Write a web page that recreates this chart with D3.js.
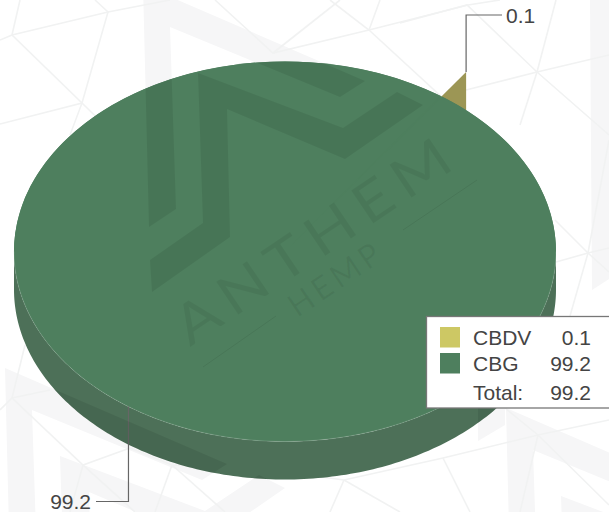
<!DOCTYPE html>
<meta charset="utf-8">
<style>
  html, body { margin: 0; padding: 0; background: #fff; overflow: hidden; }
  text { font-family: "Liberation Sans", Arial, sans-serif; font-size: 21px; fill: #444; }
</style>
<svg width="609" height="512"></svg>
<script src="https://d3js.org/d3.v7.min.js"></script>
<script>
const categories = ["CBDV", "CBG"]
const values = [0.1, 99.2]
const totalLabel = "Total:"
const totalValue = 99.2
const colors = ["#cdc864", "#4e7f5e"]
const sideColors = ["#9c9655", "#4d7058"]

// watermark artwork, sits behind/over the chart, not data
const logoOuter = [[143,-15],[365,81],[340,97],[170,27],[176,209],[149,227]]
const logoInner = [[198,73],[343,128],[397,92],[423,105],[345,159],[227,109],[230,237],[152,292],[150,260],[203,223]]
const logoTiles = [[0,0],[-138,383],[363,423]]
const extraShapes = [
  [[590,0],[609,0],[609,279],[592,290]],
  [[478,360],[505,360],[505,425],[478,441]]
]
const meshLines = [
  [[0,40],[12,35],[108,12],[170,0]], [[12,35],[20,0]], [[12,35],[82,103],[150,170]], [[0,124],[82,103],[108,12],[95,0]],
  [[82,103],[70,135]], [[215,0],[273,53],[369,30],[468,5],[500,0]], [[273,53],[340,0]],
  [[330,0],[369,30],[445,100]], [[369,30],[380,0]], [[400,23],[467,5],[537,72],[609,135]],
  [[466,90],[537,72],[609,55]], [[537,72],[556,0]], [[537,72],[520,125]],
  [[556,262],[588,253],[609,248]], [[555,220],[588,253],[609,272]], [[588,253],[609,140]], [[588,253],[570,316]],
  [[0,410],[12,398],[50,390]], [[12,398],[25,345]], [[12,398],[83,465],[130,448]], [[83,465],[70,512]], [[83,465],[135,512]],
  [[130,448],[172,465],[155,512]], [[172,465],[225,512]], [[172,465],[270,470]],
  [[270,470],[344,480],[443,458],[538,435],[609,420]], [[344,480],[330,512]], [[344,480],[400,512]],
  [[443,458],[470,512]], [[538,435],[505,408]], [[538,435],[520,512]], [[538,435],[609,505]]
]

const cx = 285, cy = 251.5, rx = 271, ry = 190
const depth = 38
const explode = 0.157
const firstAngle = 35.1 * Math.PI / 180

const svg = d3.select("svg")
const line = d3.line()
const shapePath = p => line(p) + "Z"

// screen position of a pie angle at radius factor k
const onRim = (a, k = 1) => [cx + rx * k * Math.sin(a), cy - ry * k * Math.cos(a)]

const pie = d3.pie().sort(null).startAngle(firstAngle).endAngle(firstAngle + 2 * Math.PI)
const slices = pie(values)
const midAngle = d => (d.startAngle + d.endAngle) / 2
const arc = d3.arc().innerRadius(0).outerRadius(rx)

function drawLogo(g, fill, opacity) {
  logoTiles.forEach(t => {
    [logoOuter, logoInner].forEach(shape => {
      g.append("path")
        .attr("d", shapePath(shape.map(p => [p[0] + t[0], p[1] + t[1]])))
        .attr("fill", fill).attr("fill-opacity", opacity)
    })
  })
  extraShapes.forEach(shape => {
    g.append("path").attr("d", shapePath(shape)).attr("fill", fill).attr("fill-opacity", opacity)
  })
}

// background
const back = svg.append("g")
drawLogo(back, "#f6f6f7", 1)
back.selectAll("path.mesh").data(meshLines).join("path")
  .attr("class", "mesh")
  .attr("d", line)
  .attr("fill", "none")
  .attr("stroke", "#f1f2f2")
  .attr("stroke-width", 1.6)

// exploded small slice: the radial wall and its thin top
const small = slices[0]
const a0 = midAngle(small)
const apex = onRim(a0, explode), tip = onRim(a0, 1 + explode)
const gSmall = svg.append("g")
gSmall.append("path")
  .attr("d", shapePath([apex, tip, [tip[0], tip[1] + depth], [apex[0], apex[1] + depth]]))
  .attr("fill", sideColors[0])

// big slice: side wall then top
const lowerHalf = d3.range(90, 270.5, 1).map(d => d * Math.PI / 180)
const sideOutline = lowerHalf.map(a => { const p = onRim(a); return [p[0], p[1] + depth] })
  .concat(lowerHalf.slice().reverse().map(a => onRim(a)))

svg.append("path").attr("d", shapePath(sideOutline)).attr("fill", sideColors[1])

// backing disc closes the hairline gap the small slice leaves in the top
svg.append("ellipse")
  .attr("cx", cx).attr("cy", cy).attr("rx", rx).attr("ry", ry)
  .attr("fill", colors[1])

const big = slices[1]
svg.append("path")
  .attr("transform", `translate(${cx},${cy}) scale(1,${ry / rx})`)
  .attr("d", arc(big))
  .attr("fill", colors[1])
svg.append("path")
  .attr("d", line(lowerHalf.map(a => onRim(a))))
  .attr("fill", "none")
  .attr("stroke", "#fff")
  .attr("stroke-opacity", 0.14)

// leaders
const leaders = [
  { from: tip, elbowY: 15, endX: 502, dx: 4, anchor: "start", i: 0, base: 23 },
  { from: onRim(midAngle(big)), elbowY: 501.5, endX: 96, dx: -5, anchor: "end", i: 1, base: 509 }
]
leaders.forEach(l => {
  svg.append("path")
    .attr("d", line([l.from, [l.from[0], l.elbowY], [l.endX, l.elbowY]]))
    .attr("fill", "none")
    .attr("stroke", "#666")
    .attr("stroke-width", 1.2)
  svg.append("text")
    .attr("x", l.endX + l.dx)
    .attr("y", l.base)
    .attr("text-anchor", l.anchor)
    .text(values[l.i])
})

// watermark on the pie, clipped to pie + side
const defs = svg.append("defs")
const clip = defs.append("clipPath").attr("id", "pieClip")
clip.append("path").attr("d", shapePath(sideOutline))
clip.append("ellipse").attr("cx", cx).attr("cy", cy).attr("rx", rx).attr("ry", ry)

const over = svg.append("g").attr("clip-path", "url(#pieClip)")
drawLogo(over, "#000", 0.08)

const mark = over.append("g").attr("transform", "translate(190,347) rotate(-34)")
mark.append("text")
  .attr("textLength", 330)
  .attr("lengthAdjust", "spacingAndGlyphs")
  .style("font-family", "Lato, 'Open Sans', sans-serif")
  .style("font-size", "55px")
  .style("letter-spacing", "8px")
  .style("fill", "#000")
  .style("fill-opacity", 0.06)
  .text("ANTHEM")
mark.append("text")
  .attr("x", 105)
  .attr("y", 36)
  .attr("textLength", 104)
  .attr("lengthAdjust", "spacing")
  .style("font-family", "Lato, 'Open Sans', sans-serif")
  .style("font-size", "32px")
  .style("fill", "#000")
  .style("fill-opacity", 0.06)
  .text("HEMP")
over.selectAll("path.rule").data([[[203,367],[276,316]], [[403,230],[477,180]]]).join("path")
  .attr("class", "rule")
  .attr("d", line)
  .attr("stroke", "#000")
  .attr("stroke-opacity", 0.07)

// legend
const legend = svg.append("g").attr("transform", "translate(426,316)")
legend.append("rect")
  .attr("x", 0.5).attr("y", 0.5)
  .attr("width", 200).attr("height", 91.5)
  .attr("fill", "#fff")
  .attr("stroke", "#777")
  .attr("stroke-width", 1.3)

const rowY = d3.scalePoint().domain(categories).range([29, 55])
const row = legend.selectAll("g.row").data(categories).join("g").attr("class", "row")
row.append("rect")
  .attr("x", 14)
  .attr("y", d => rowY(d) - 18)
  .attr("width", 20)
  .attr("height", 20.5)
  .attr("fill", (d, i) => colors[i])
row.append("text").attr("x", 47).attr("y", rowY).text(d => d)
row.append("text").attr("x", 165).attr("y", rowY).attr("text-anchor", "end").text((d, i) => values[i])
legend.append("text").attr("x", 47).attr("y", 84).text(totalLabel)
legend.append("text").attr("x", 165).attr("y", 84).attr("text-anchor", "end").text(totalValue)
</script>
